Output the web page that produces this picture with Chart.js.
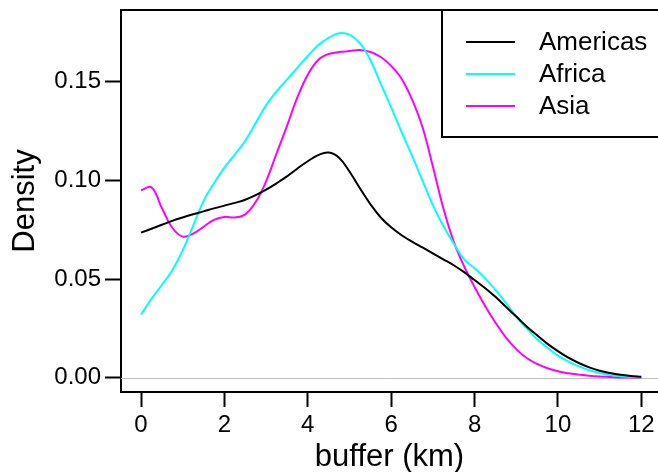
<!DOCTYPE html>
<html>
<head>
<meta charset="utf-8">
<script src="https://cdn.jsdelivr.net/npm/chart.js@4.4.1/dist/chart.umd.min.js"></script>
<style>
  html, body { margin: 0; padding: 0; background: #fff; }
  #wrap { width: 658px; height: 472px; }
</style>
</head>
<body>
<div id="wrap"><canvas id="densidad" width="658" height="472"></canvas></div>
<script>
// grid of buffer values (km)
const bufferKm = [0, 0.25, 0.5, 0.75, 1, 1.25, 1.5, 1.75, 2, 2.25, 2.5, 2.75, 3, 3.25, 3.5, 3.75,
    4, 4.25, 4.5, 4.75, 5, 5.25, 5.5, 5.75, 6, 6.25, 6.5, 6.75, 7, 7.25, 7.5, 7.75,
    8, 8.25, 8.5, 8.75, 9, 9.25, 9.5, 9.75, 10, 10.25, 10.5, 10.75, 11, 11.25, 11.5, 11.75, 12]

const americas = [0.0735, 0.0755, 0.0775, 0.0795, 0.0812, 0.0828, 0.0843, 0.0858, 0.0872, 0.0886, 0.0902, 0.0925, 0.0953, 0.0985, 0.1020, 0.1060,
    0.1097, 0.1128, 0.1141, 0.1115, 0.1045, 0.0960, 0.0880, 0.0812, 0.0762, 0.0722, 0.0690, 0.0660, 0.0630, 0.0600, 0.0570, 0.0535,
    0.0495, 0.0455, 0.0410, 0.0360, 0.0310, 0.0260, 0.0215, 0.0172, 0.0135, 0.0102, 0.0075, 0.0053, 0.0036, 0.0024, 0.0015, 0.0009, 0.0005]

const africa = [0.0320, 0.0400, 0.0470, 0.0545, 0.0645, 0.0770, 0.0895, 0.0985, 0.1065, 0.1130, 0.1200, 0.1290, 0.1380, 0.1450, 0.1510, 0.1570,
    0.1630, 0.1685, 0.1722, 0.1745, 0.1738, 0.1695, 0.1610, 0.1490, 0.1370, 0.1245, 0.1125, 0.1000, 0.0875, 0.0770, 0.0680, 0.0600,
    0.0555, 0.0505, 0.0445, 0.0380, 0.0310, 0.0250, 0.0195, 0.0152, 0.0112, 0.0082, 0.0058, 0.0038, 0.0024, 0.0014, 0.0008, 0.0004, 0.0002]

const asia = [0.0950, 0.0965, 0.0860, 0.0760, 0.0715, 0.0730, 0.0765, 0.0800, 0.0815, 0.0812, 0.0828, 0.0890, 0.0995, 0.1135, 0.1275, 0.1420,
    0.1535, 0.1610, 0.1640, 0.1650, 0.1655, 0.1660, 0.1650, 0.1625, 0.1580, 0.1515, 0.1410, 0.1270, 0.1070, 0.0860, 0.0690, 0.0565,
    0.0460, 0.0365, 0.0280, 0.0205, 0.0145, 0.0100, 0.0070, 0.0048, 0.0033, 0.0023, 0.0016, 0.0010, 0.0006, 0.0004, 0.0002, 0.0001, 0.0000]

const regionNames = ['Americas', 'Africa', 'Asia']
const regionColors = ['#000000', '#00ffff', '#ff00ff']
const xTicks = [0, 2, 4, 6, 8, 10, 12]
const yTicks = [0, 0.05, 0.10, 0.15]

const FONT = '"Liberation Sans", Arial, Helvetica, sans-serif'

// pair x with y for each series
function toPoints(ys) {
    let pts = []
    for (let i = 0; i < bufferKm.length; i++) {
        pts.push({ x: bufferKm[i], y: ys[i] })
    }
    return pts
}

const series = [americas, africa, asia]
let datasets = []
for (let i = 0; i < series.length; i++) {
    datasets.push({
        label: regionNames[i],
        data: toPoints(series[i]),
        borderColor: regionColors[i],
        borderWidth: 2,
        pointRadius: 0,
        tension: 0.4,
        fill: false
    })
}

// frame, zero line and the boxed legend
const marcoPlugin = {
    id: 'marco',
    beforeDatasetsDraw(chart) {
        const ctx = chart.ctx, a = chart.chartArea
        const y0 = Math.round(chart.scales.y.getPixelForValue(0)) + 0.5
        ctx.save()
        ctx.strokeStyle = '#bebebe'
        ctx.lineWidth = 1
        ctx.beginPath()
        ctx.moveTo(a.left, y0)
        ctx.lineTo(a.right, y0)
        ctx.stroke()
        ctx.restore()
    },
    afterDraw(chart) {
        const ctx = chart.ctx, a = chart.chartArea
        ctx.save()
        ctx.strokeStyle = '#000'
        ctx.lineWidth = 2
        ctx.beginPath()
        ctx.moveTo(a.left - 1, a.top)
        ctx.lineTo(a.right, a.top)
        ctx.stroke()

        // legend box
        const bx = 442, by = a.top, bh = 127
        ctx.fillStyle = '#fff'
        ctx.fillRect(bx, by, a.right - bx + 5, bh)
        ctx.strokeRect(bx, by, a.right - bx + 5, bh)

        ctx.font = '26px ' + FONT
        ctx.textBaseline = 'middle'
        ctx.textAlign = 'left'
        const ds = chart.data.datasets
        for (let i = 0; i < ds.length; i++) {
            const ly = a.top + 32 + i * 32
            ctx.strokeStyle = ds[i].borderColor
            ctx.lineWidth = 2
            ctx.beginPath()
            ctx.moveTo(466, ly)
            ctx.lineTo(515, ly)
            ctx.stroke()
            ctx.fillStyle = '#000'
            ctx.fillText(ds[i].label, 539, ly + 1)
        }
        ctx.restore()
    }
}

const DENSIDAD = document.getElementById('densidad')

new Chart(DENSIDAD, {
    type: 'line',
    data: { datasets: datasets },
    options: {
        responsive: false,
        animation: false,
        events: [],
        layout: { padding: { top: 10, right: 0, bottom: 0, left: 0 } },
        plugins: {
            legend: { display: false },
            tooltip: { enabled: false }
        },
        scales: {
            x: {
                type: 'linear',
                min: -0.48,
                max: 12.4,
                afterFit: function (s) { s.height = 80; s.paddingLeft = 0; s.paddingRight = 0 },
                afterBuildTicks: function (s) { s.ticks = xTicks.map(v => ({ value: v })) },
                grid: { drawOnChartArea: false, tickLength: 15, tickColor: '#000', tickWidth: 2 },
                border: { display: true, color: '#000', width: 2 },
                ticks: {
                    color: '#000',
                    font: { family: FONT, size: 24 },
                    padding: 4,
                    maxRotation: 0,
                    callback: v => String(v)
                },
                title: {
                    display: true,
                    text: 'buffer (km)',
                    color: '#000',
                    font: { family: FONT, size: 31 },
                    padding: { top: 0, bottom: -4 }
                }
            },
            y: {
                min: -0.0072,
                max: 0.1863,
                afterFit: function (s) { s.width = 121; s.paddingTop = 0; s.paddingBottom = 0 },
                afterBuildTicks: function (s) { s.ticks = yTicks.map(v => ({ value: v })) },
                grid: { drawOnChartArea: false, tickLength: 16, tickColor: '#000', tickWidth: 2 },
                border: { display: true, color: '#000', width: 2 },
                ticks: {
                    color: '#000',
                    font: { family: FONT, size: 24 },
                    padding: 4,
                    callback: v => v.toFixed(2)
                },
                title: {
                    display: true,
                    text: 'Density',
                    color: '#000',
                    font: { family: FONT, size: 31 },
                    padding: { top: 7, bottom: 0 }
                }
            }
        }
    },
    plugins: [marcoPlugin]
})
</script>
</body>
</html>
